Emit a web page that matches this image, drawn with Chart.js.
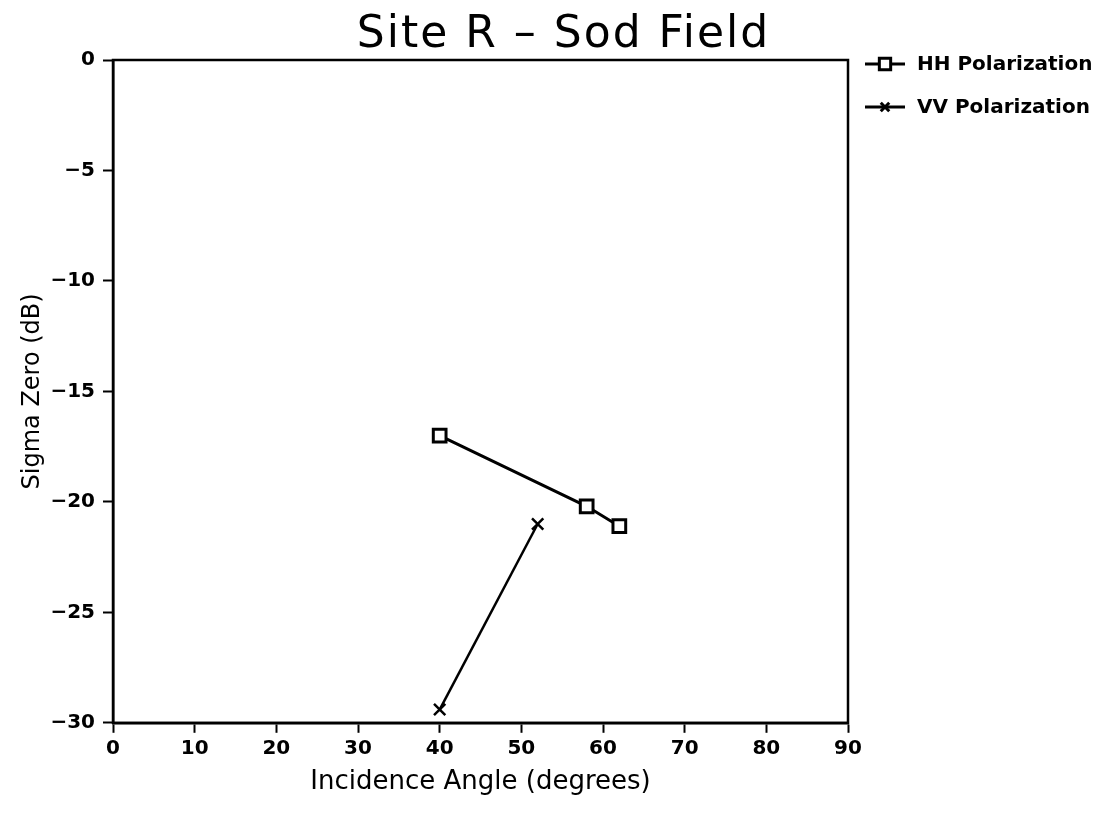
<!DOCTYPE html>
<html>
<head>
    <meta charset="UTF-8">
    <title>Site R - Sod Field</title>
    <script src="https://cdn.jsdelivr.net/npm/chart.js"></script>
    <style>
        html, body { margin: 0; padding: 0; background: #fff; }
        #wrap { width: 1115px; height: 817px; }
    </style>
</head>
<body>
    <div id="wrap"><canvas id="sodChart" width="1115" height="817"></canvas></div>

    <script>
        // values
        const hhAngle = [40, 58, 62];
        const hhSigma = [-17.0, -20.2, -21.1];
        const vvAngle = [40, 52];
        const vvSigma = [-29.4, -21.0];
        const seriesNames = ['HH Polarization', 'VV Polarization'];
        const xTicks = [0, 10, 20, 30, 40, 50, 60, 70, 80, 90];
        const yTicks = [0, -5, -10, -15, -20, -25, -30];
        const titleText = 'Site R \u2013 Sod Field';

        const toPoints = (xs, ys) => xs.map((x, i) => ({ x: x, y: ys[i] }));

        // title over the whole page, box round the plot area, legend at the right
        const framePlugin = {
            id: 'frame',
            afterDraw(chart) {
                const ctx = chart.ctx;
                const a = chart.chartArea;
                ctx.save();
                ctx.fillStyle = '#000';
                ctx.font = '44px "DejaVu Sans"';
                ctx.letterSpacing = '2px';
                ctx.textAlign = 'center';
                ctx.textBaseline = 'alphabetic';
                ctx.fillText(titleText, chart.width / 2 + 6, 47);
                ctx.letterSpacing = '0px';

                ctx.strokeStyle = '#000';
                ctx.lineWidth = 2.5;
                ctx.strokeRect(a.left, a.top, a.right - a.left, a.bottom - a.top);

                const rows = [
                    { y: a.top + 4, style: 'rect', r: 8 },
                    { y: a.top + 47, style: 'crossRot', r: 6 }
                ];
                ctx.font = 'bold 20px "DejaVu Sans"';
                ctx.textAlign = 'left';
                ctx.textBaseline = 'middle';
                rows.forEach((row, i) => {
                    const x0 = a.right + 17;
                    ctx.lineWidth = 3;
                    ctx.beginPath();
                    ctx.moveTo(x0, row.y);
                    ctx.lineTo(x0 + 40, row.y);
                    ctx.stroke();
                    ctx.fillStyle = '#fff';
                    Chart.helpers.drawPoint(ctx, {
                        pointStyle: row.style, radius: row.r, borderWidth: 3
                    }, x0 + 20, row.y);
                    ctx.fillStyle = '#000';
                    ctx.fillText(seriesNames[i], x0 + 52, row.y + 1);
                });
                ctx.restore();
            }
        };

        const ctx = document.getElementById('sodChart').getContext('2d');
        new Chart(ctx, {
            type: 'scatter',
            data: {
                datasets: [{
                    label: seriesNames[0],
                    data: toPoints(hhAngle, hhSigma),
                    showLine: true,
                    borderColor: '#000',
                    backgroundColor: '#fff',
                    borderWidth: 3,
                    pointStyle: 'rect',
                    pointRadius: 9,
                    pointBorderWidth: 3
                }, {
                    label: seriesNames[1],
                    data: toPoints(vvAngle, vvSigma),
                    showLine: true,
                    borderColor: '#000',
                    backgroundColor: '#000',
                    borderWidth: 2.5,
                    pointStyle: 'crossRot',
                    pointRadius: 8,
                    pointBorderWidth: 2.5
                }]
            },
            options: {
                responsive: false,
                animation: false,
                layout: { padding: { top: 60, right: 267, bottom: 19, left: 18 } },
                plugins: {
                    legend: { display: false },
                    tooltip: { enabled: false },
                    title: { display: false }
                },
                scales: {
                    x: {
                        type: 'linear',
                        min: 0, max: 90,
                        afterBuildTicks: s => { s.ticks = xTicks.map(v => ({ value: v })); },
                        ticks: { color: '#000', font: { family: 'DejaVu Sans', size: 20, weight: 'bold' }, padding: 4 },
                        grid: { drawOnChartArea: false, color: '#000', tickColor: '#000', tickLength: 10, tickWidth: 2 },
                        border: { color: '#000', width: 2.5 },
                        title: {
                            display: true,
                            text: 'Incidence Angle (degrees)',
                            color: '#000',
                            font: { family: 'DejaVu Sans', size: 26 },
                            padding: { top: 2, bottom: 0 }
                        }
                    },
                    y: {
                        type: 'linear',
                        min: -30, max: 0,
                        afterBuildTicks: s => { s.ticks = yTicks.map(v => ({ value: v })); },
                        ticks: {
                            color: '#000',
                            font: { family: 'DejaVu Sans', size: 20, weight: 'bold' },
                            padding: 8,
                            callback: v => String(v).replace('-', '\u2212')
                        },
                        grid: { drawOnChartArea: false, color: '#000', tickColor: '#000', tickLength: 10, tickWidth: 2 },
                        border: { color: '#000', width: 2.5 },
                        title: {
                            display: true,
                            text: 'Sigma Zero (dB)',
                            color: '#000',
                            font: { family: 'DejaVu Sans', size: 24 },
                            padding: { top: 0, bottom: 4 }
                        },
                        afterFit: s => { s.width = 95; }
                    }
                }
            },
            plugins: [framePlugin]
        });
    </script>
</body>
</html>
